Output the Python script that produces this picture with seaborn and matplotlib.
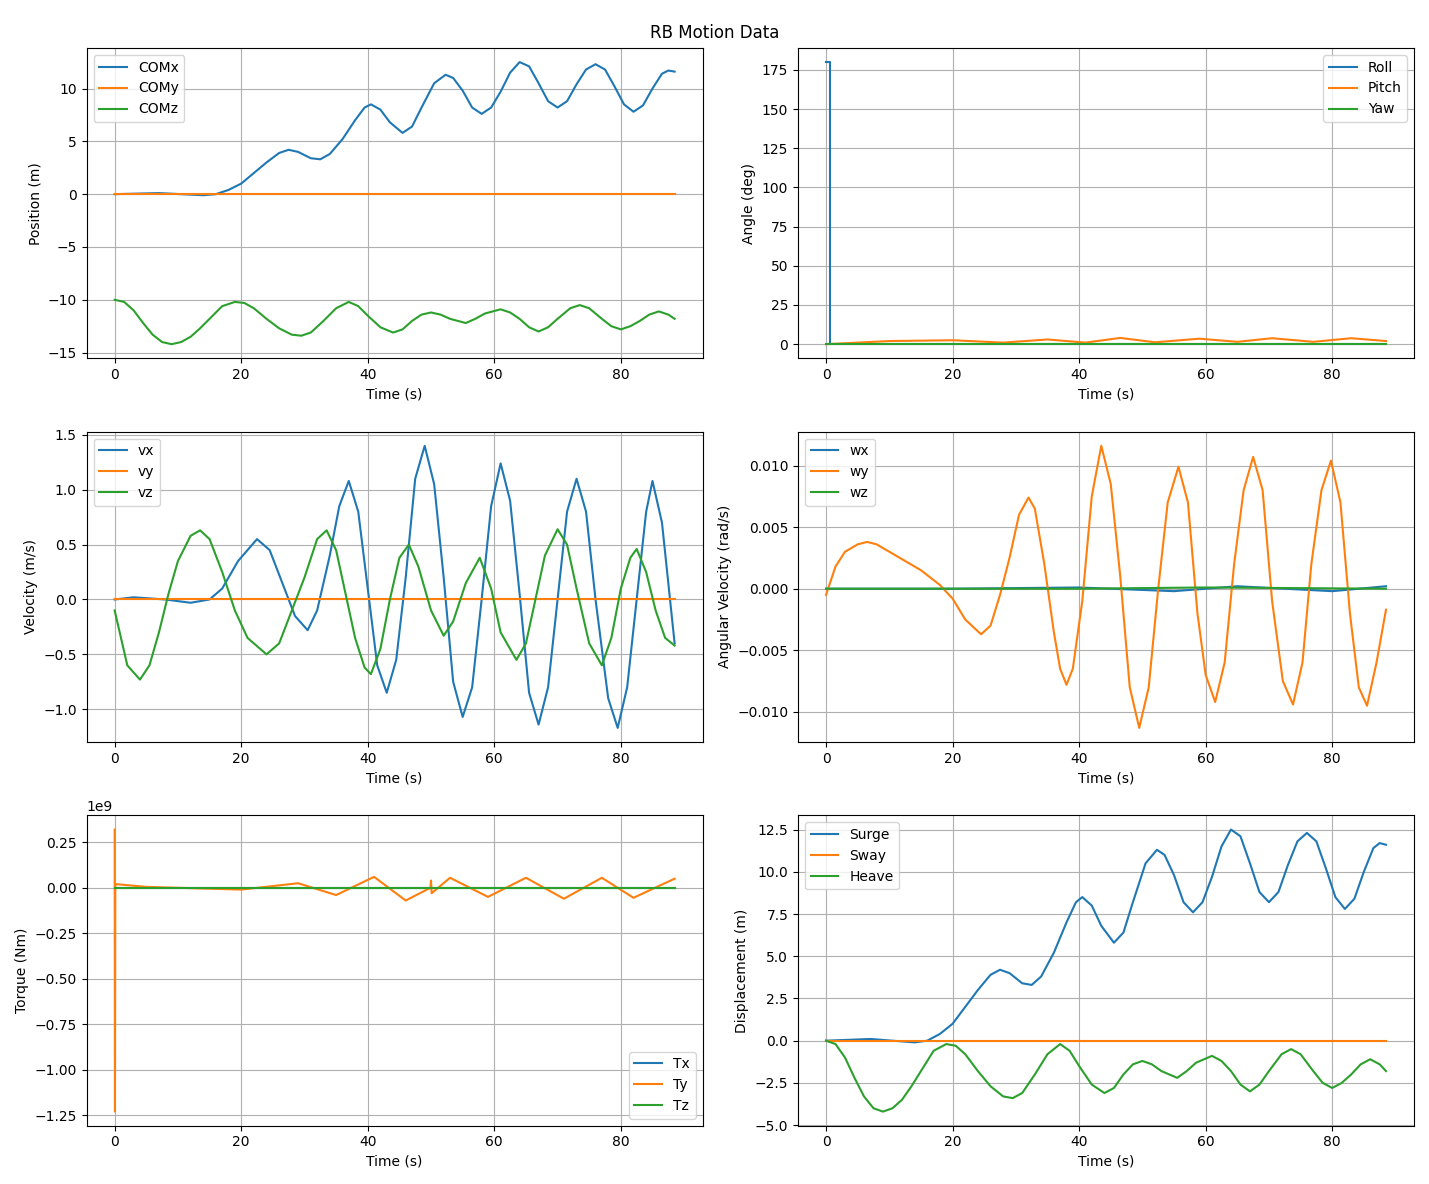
import numpy as np
import pandas as pd
import matplotlib
matplotlib.use("Agg")
import matplotlib.pyplot as plt
from matplotlib.ticker import MultipleLocator
import seaborn as sns

# values at knot times
t_comx = [0, 7, 14, 16, 18, 20, 22, 24, 26, 27.5, 29, 31, 32.5, 34, 36, 38, 39.5, 40.5, 42, 43.5, 45.5, 47, 48.5, 50.5, 52.3, 53.5, 55, 56.5, 58, 59.5, 61, 62.5, 64, 65.5, 67, 68.5, 70, 71.5, 73, 74.5, 76, 77.5, 79, 80.5, 82, 83.5, 85, 86.5, 87.5, 88.5]
comx = [0, 0.1, -0.1, 0, 0.4, 1, 2, 3, 3.9, 4.2, 4, 3.4, 3.3, 3.8, 5.2, 7, 8.2, 8.5, 8, 6.8, 5.8, 6.4, 8.2, 10.5, 11.3, 11, 9.8, 8.2, 7.6, 8.2, 9.7, 11.5, 12.5, 12.1, 10.5, 8.8, 8.2, 8.8, 10.4, 11.8, 12.3, 11.8, 10.2, 8.5, 7.8, 8.4, 10, 11.4, 11.7, 11.6]
t_comz = [0, 1.5, 3, 4.5, 6, 7.5, 9, 10.5, 12, 13.5, 15, 17, 19, 20.5, 22, 24, 26, 28, 29.5, 31, 33, 35, 37, 38.5, 40, 42, 44, 45.5, 47, 48.5, 50, 51.5, 53, 55.5, 57, 58.5, 61, 62.5, 64, 65.5, 67, 68.5, 70, 72, 73.5, 75, 77, 78.5, 80, 81.5, 83, 84.5, 86, 87.5, 88.5]
comz = [-10, -10.2, -11, -12.2, -13.3, -14, -14.2, -14, -13.5, -12.7, -11.8, -10.6, -10.2, -10.3, -10.8, -11.8, -12.7, -13.3, -13.4, -13.1, -12, -10.8, -10.2, -10.6, -11.5, -12.6, -13.1, -12.8, -12, -11.4, -11.2, -11.4, -11.8, -12.2, -11.8, -11.3, -10.9, -11.2, -11.8, -12.6, -13, -12.6, -11.8, -10.8, -10.5, -10.8, -11.8, -12.5, -12.8, -12.5, -12, -11.4, -11.1, -11.4, -11.8]
t_ends = [0, 88.5]
zeros = [0, 0]

t_roll = [0, 0.6, 0.6, 88.5]
roll = [180, 180, 0, 0]
t_pitch = [0, 10, 20, 28, 35, 41, 46.5, 52, 59, 65, 70.5, 77, 83, 88.5]
pitch = [0, 2, 2.5, 1, 3, 1, 4, 1.2, 3.5, 1.5, 3.8, 1.5, 3.8, 2]

t_vx = [0, 3, 8, 12, 15, 17, 19.5, 22.5, 24.5, 26.5, 28.5, 30.5, 32, 34, 35.5, 37, 38.5, 40, 41.5, 43, 44.5, 46, 47.5, 49, 50.5, 52, 53.5, 55, 56.5, 58, 59.5, 61, 62.5, 64, 65.5, 67, 68.5, 70, 71.5, 73, 74.5, 76, 78, 79.5, 81, 82.5, 84, 85, 86.5, 88.5]
vx = [0, 0.02, 0, -0.03, 0, 0.1, 0.35, 0.55, 0.45, 0.15, -0.15, -0.28, -0.1, 0.4, 0.85, 1.08, 0.8, 0.1, -0.6, -0.85, -0.55, 0.2, 1.1, 1.4, 1.05, 0.2, -0.75, -1.07, -0.8, 0, 0.85, 1.24, 0.9, 0.05, -0.85, -1.14, -0.8, 0, 0.8, 1.1, 0.8, 0, -0.9, -1.17, -0.8, 0, 0.8, 1.08, 0.7, -0.4]
t_vz = [0, 1, 2, 4, 5.5, 7, 8.5, 10, 12, 13.5, 15, 17, 19, 21, 24, 26, 28, 30, 32, 33.5, 35, 36.5, 38, 39.5, 40.5, 42, 43.5, 45, 46.5, 48, 50, 52, 53.5, 55.5, 57.7, 59.5, 61, 63.5, 65, 66.5, 68, 70, 71.5, 73, 75, 77, 78.5, 80, 81.5, 82.5, 84, 85.5, 87, 88.5]
vz = [-0.1, -0.35, -0.6, -0.73, -0.6, -0.3, 0.05, 0.35, 0.58, 0.63, 0.55, 0.25, -0.1, -0.35, -0.5, -0.4, -0.1, 0.2, 0.55, 0.63, 0.45, 0.05, -0.35, -0.62, -0.68, -0.45, 0, 0.38, 0.5, 0.3, -0.1, -0.33, -0.2, 0.15, 0.38, 0.1, -0.3, -0.55, -0.4, 0, 0.4, 0.64, 0.5, 0.1, -0.4, -0.6, -0.35, 0.1, 0.38, 0.46, 0.25, -0.1, -0.35, -0.42]

t_wx = [0, 20, 40, 55, 65, 80, 88.5]
wx = [0, 0, 0.0001, -0.0002, 0.0002, -0.0002, 0.0002]
t_wy = [0, 1.5, 3, 5, 6.5, 8, 10, 15, 18, 20, 22, 24.5, 26, 27.5, 29, 30.5, 32, 33, 34.5, 36, 37, 38, 39, 40.5, 42, 43.5, 45, 46.5, 48, 49.5, 51, 52.5, 54, 55.7, 57.2, 58.7, 60, 61.5, 63, 64.5, 66, 67.5, 69, 70.5, 72.2, 73.8, 75.3, 76.7, 78.3, 79.8, 81.3, 82.8, 84.2, 85.5, 87, 88.5]
wy = [-0.0005, 0.0018, 0.003, 0.0036, 0.0038, 0.0036, 0.003, 0.0015, 0.0003, -0.0008, -0.0025, -0.0037, -0.003, -0.0005, 0.0025, 0.006, 0.0074, 0.0065, 0.002, -0.0035, -0.0065, -0.0078, -0.0065, -0.001, 0.0075, 0.0116, 0.0085, 0.001, -0.008, -0.0113, -0.008, 0.0, 0.007, 0.0099, 0.007, -0.002, -0.007, -0.0092, -0.006, 0.002, 0.008, 0.0107, 0.008, -0.001, -0.0075, -0.0094, -0.006, 0.002, 0.008, 0.0104, 0.007, -0.002, -0.008, -0.0095, -0.006, -0.0017]
t_wz = [0, 20, 40, 60, 88.5]
wz = [0, 0, 0, 0.0001, 0]

t_ty = [0, 0.05, 0.1, 0.2, 5, 20, 29, 35, 41, 46, 49.9, 50, 50.1, 53, 59, 65, 71, 77, 82, 88.5]
ty = [0.32e9, -1.23e9, 0.02e9, 0.02e9, 0.005e9, -0.01e9, 0.025e9, -0.04e9, 0.06e9, -0.07e9, 0.0, 0.04e9, -0.03e9, 0.055e9, -0.05e9, 0.055e9, -0.06e9, 0.055e9, -0.055e9, 0.05e9]

heave = [z + 10 for z in comz]

fig, axes = plt.subplots(3, 2, figsize=(14.29, 11.84), dpi=100)
c = sns.color_palette("tab10")


def panel(ax, series, ylabel, loc):
    for (x, y, lab), col in zip(series, c):
        sns.lineplot(x=x, y=y, ax=ax, color=col, label=lab, sort=False, estimator=None)
    ax.set_xlabel("Time (s)")
    ax.set_ylabel(ylabel)
    ax.grid(True)
    ax.legend(loc=loc)


panel(axes[0, 0], [(t_comx, comx, "COMx"), (t_ends, zeros, "COMy"), (t_comz, comz, "COMz")], "Position (m)", "upper left")
panel(axes[0, 1], [(t_roll, roll, "Roll"), (t_pitch, pitch, "Pitch"), (t_ends, zeros, "Yaw")], "Angle (deg)", "upper right")
panel(axes[1, 0], [(t_vx, vx, "vx"), (t_ends, zeros, "vy"), (t_vz, vz, "vz")], "Velocity (m/s)", "upper left")
panel(axes[1, 1], [(t_wx, wx, "wx"), (t_wy, wy, "wy"), (t_wz, wz, "wz")], "Angular Velocity (rad/s)", "upper left")
panel(axes[2, 0], [(t_ends, zeros, "Tx"), (t_ty, ty, "Ty"), (t_ends, zeros, "Tz")], "Torque (Nm)", "lower right")
panel(axes[2, 1], [(t_comx, comx, "Surge"), (t_ends, zeros, "Sway"), (t_comz, heave, "Heave")], "Displacement (m)", "upper left")
axes[2, 0].yaxis.set_major_locator(MultipleLocator(0.25e9))

fig.suptitle("RB Motion Data")
fig.tight_layout()
fig.savefig("out.png")
